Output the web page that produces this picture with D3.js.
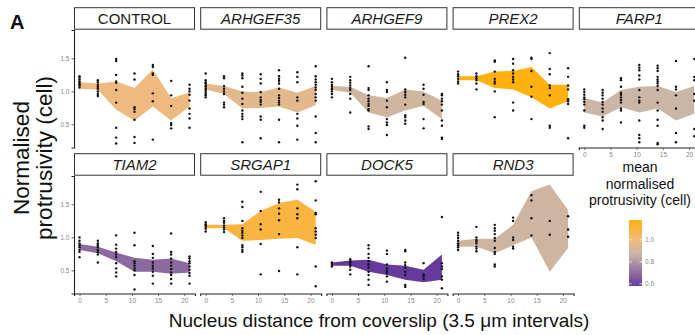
<!DOCTYPE html>
<html>
<head>
<meta charset="utf-8">
<script src="https://cdn.jsdelivr.net/npm/d3@7"></script>
<style>
body { margin: 0; background: #fff; }
svg { display: block; font-family: "Liberation Sans", Arial, sans-serif; }
</style>
</head>
<body>
<script>
// data
var genes = ["CONTROL", "ARHGEF35", "ARHGEF9", "PREX2", "FARP1", "TIAM2", "SRGAP1", "DOCK5", "RND3"];
var distances = [0, 3.5, 7, 10.5, 14, 17.5, 21];
var meanProtrusivity = [0.99, 0.95, 0.89, 1.18, 0.87, 0.69, 1.10, 0.58, 0.88];

var ribbonUpper = [
    [1.14, 1.12, 1.15, 1.05, 1.33, 0.90, 0.98],
    [1.12, 1.08, 1.00, 0.99, 1.06, 0.98, 1.08],
    [1.08, 1.07, 0.94, 0.90, 1.03, 1.00, 0.86],
    [1.23, 1.23, 1.30, 1.31, 1.37, 1.10, 1.10],
    [0.90, 0.83, 1.02, 1.07, 1.08, 0.99, 1.08],
    [0.90, 0.86, 0.77, 0.69, 0.66, 0.68, 0.61],
    [1.19, 1.19, 1.20, 1.40, 1.52, 1.57, 1.39],
    [0.62, 0.65, 0.66, 0.59, 0.57, 0.51, 0.74],
    [0.95, 0.98, 0.98, 1.19, 1.70, 1.80, 1.41]
];
var ribbonLower = [
    [1.04, 1.03, 0.72, 0.56, 0.77, 0.56, 0.77],
    [1.03, 0.96, 0.74, 0.75, 0.77, 0.68, 0.79],
    [1.02, 0.98, 0.68, 0.61, 0.71, 0.78, 0.58],
    [1.17, 1.17, 1.05, 1.03, 0.91, 0.74, 0.85],
    [0.68, 0.62, 0.76, 0.68, 0.74, 0.56, 0.66],
    [0.81, 0.76, 0.64, 0.48, 0.48, 0.45, 0.47],
    [1.14, 1.14, 0.95, 0.96, 0.98, 0.99, 0.89],
    [0.57, 0.57, 0.48, 0.43, 0.36, 0.32, 0.36],
    [0.86, 0.86, 0.76, 0.88, 1.00, 0.48, 0.84]
];

// one list of cell values per distance, per gene
var cellValues = [
    [[1.23, 1.21, 1.18, 1.15, 1.13, 1.11, 1.09, 1.06],
     [1.17, 1.14, 1.10, 1.07, 1.04, 1.00, 0.96, 0.93],
     [1.49, 1.46, 1.25, 1.15, 1.13, 1.02, 0.83, 0.45, 0.30, 0.21],
     [1.27, 1.18, 0.76, 0.73, 0.69, 0.57, 0.31, 0.22],
     [1.40, 1.37, 1.27, 1.25, 0.97, 0.85, 0.27],
     [1.16, 0.94, 0.78, 0.52, 0.49, 0.44],
     [1.10, 1.04, 1.00, 0.95, 0.86, 0.74, 0.66, 0.59, 0.45]],
    [[1.27, 1.17, 1.14, 1.12, 1.09, 1.07, 1.04, 1.02, 0.99, 0.96, 0.94, 0.91],
     [1.23, 1.20, 1.08, 1.04, 1.00, 0.96, 0.83, 0.80, 0.76],
     [1.27, 1.24, 1.20, 1.07, 0.98, 0.89, 0.81, 0.71, 0.66, 0.62, 0.58, 0.23],
     [1.26, 1.19, 1.12, 0.99, 0.91, 0.87, 0.84, 0.80, 0.62, 0.57, 0.29],
     [1.32, 1.23, 1.19, 1.16, 1.12, 1.04, 0.94, 0.90, 0.86, 0.83, 0.80, 0.57, 0.23],
     [1.29, 1.22, 1.14, 0.91, 0.86, 0.66, 0.59, 0.48, 0.27],
     [1.38, 1.23, 1.18, 1.14, 1.10, 1.06, 1.02, 0.96, 0.91, 0.86, 0.62, 0.37, 0.23]],
    [[1.19, 1.14, 1.10, 1.08, 1.05, 1.03, 1.00, 0.96, 0.91],
     [1.22, 1.17, 1.13, 1.09, 1.05, 1.02, 0.96, 0.89, 0.68],
     [1.38, 1.05, 1.02, 0.94, 0.89, 0.85, 0.81, 0.78, 0.73, 0.71, 0.47, 0.43],
     [1.14, 1.02, 0.99, 0.86, 0.76, 0.58, 0.53, 0.49, 0.34],
     [1.51, 1.03, 0.99, 0.95, 0.91, 0.80, 0.64, 0.61, 0.56, 0.51],
     [1.10, 1.04, 0.95, 0.84, 0.81, 0.58, 0.44],
     [0.96, 0.94, 0.89, 0.85, 0.80, 0.71, 0.56, 0.48, 0.30, 0.28]],
    [[1.30, 1.26, 1.23, 1.19, 1.15, 1.12],
     [1.27, 1.23, 1.20, 1.17, 1.12, 1.03],
     [1.47, 1.45, 1.30, 1.19, 1.15, 1.12, 1.00, 0.61],
     [1.49, 1.42, 1.32, 1.27, 1.22, 1.18, 1.14, 0.83, 0.71],
     [1.51, 1.49, 1.31, 1.07, 0.92, 0.58],
     [1.58, 1.34, 1.26, 1.09, 1.05, 0.94, 0.48, 0.45],
     [1.35, 1.22, 1.09, 1.03, 0.88, 0.85, 0.81, 0.29]],
    [[1.03, 0.99, 0.95, 0.91, 0.88, 0.84, 0.80, 0.71, 0.48, 0.45],
     [1.02, 0.98, 0.94, 0.89, 0.84, 0.80, 0.74, 0.69, 0.61, 0.56, 0.43],
     [1.20, 1.17, 1.07, 0.98, 0.95, 0.91, 0.87, 0.83, 0.74, 0.71, 0.53],
     [1.40, 1.36, 1.32, 1.24, 1.18, 1.02, 0.91, 0.86, 0.83, 0.56, 0.34, 0.29, 0.23],
     [1.39, 1.35, 1.31, 1.22, 1.18, 1.15, 1.12, 1.08, 1.02, 0.83, 0.71, 0.57, 0.48, 0.22, 0.20],
     [1.46, 1.07, 1.03, 0.94, 0.74, 0.37, 0.23],
     [1.49, 1.22, 1.17, 0.96, 0.86, 0.43, 0.32]],
    [[1.00, 0.95, 0.91, 0.88, 0.85, 0.81, 0.78, 0.70],
     [0.95, 0.91, 0.88, 0.85, 0.81, 0.78, 0.74, 0.62],
     [1.03, 0.89, 0.83, 0.78, 0.74, 0.70, 0.61, 0.53, 0.47, 0.41],
     [1.07, 0.88, 0.64, 0.61, 0.57, 0.53, 0.50, 0.43, 0.21],
     [0.87, 0.75, 0.69, 0.62, 0.57, 0.53, 0.48, 0.42, 0.30],
     [1.06, 0.78, 0.74, 0.68, 0.62, 0.57, 0.52, 0.47, 0.43, 0.37, 0.30],
     [0.71, 0.68, 0.64, 0.61, 0.56, 0.51, 0.46, 0.42, 0.30]],
    [[1.23, 1.20, 1.18, 1.16, 1.13, 1.09],
     [1.29, 1.25, 1.22, 1.18, 1.15, 1.12, 1.08],
     [1.54, 1.46, 1.25, 1.14, 1.10, 1.07, 1.03, 0.99, 0.88, 0.85, 0.81, 0.78],
     [1.69, 1.40, 1.20, 1.12, 0.90, 0.44],
     [1.57, 1.53, 1.44, 1.36, 1.26, 1.05, 0.49],
     [1.80, 1.73, 1.44, 1.35, 1.29, 0.85, 0.44],
     [1.85, 1.56, 1.37, 1.35, 1.14, 1.09, 1.04, 0.99, 0.56, 0.26]],
    [[0.62, 0.60, 0.58, 0.56],
     [0.67, 0.64, 0.62, 0.59, 0.56, 0.51, 0.44],
     [0.88, 0.83, 0.75, 0.69, 0.64, 0.59, 0.54, 0.48, 0.43, 0.36, 0.28],
     [0.80, 0.75, 0.59, 0.53, 0.49, 0.46, 0.41, 0.33],
     [0.81, 0.79, 0.62, 0.58, 0.54, 0.48, 0.43, 0.28, 0.25],
     [0.61, 0.44, 0.41, 0.37],
     [1.31, 0.61, 0.56, 0.52, 0.41, 0.36, 0.23]],
    [[1.07, 1.03, 0.99, 0.95, 0.91, 0.88, 0.85, 0.81],
     [1.16, 1.00, 0.96, 0.94, 0.91, 0.86, 0.83, 0.79],
     [1.19, 1.14, 1.10, 1.05, 0.99, 0.95, 0.84, 0.78, 0.75, 0.59, 0.56],
     [1.30, 1.25, 1.00, 0.96, 0.86, 0.83],
     [1.64, 1.56, 1.29, 1.03],
     [1.25, 1.04],
     [1.32, 1.12, 1.01]]
];

var xTicks = [0, 5, 10, 15, 20];
var yTicks = [0.5, 1.0, 1.5];
var legendTicks = [0.6, 0.8, 1.0];

// layout
var W = 695, H = 335;
var nCols = 5;
var panelW = 121, colStep = 126.2, left0 = 74;
var rowTop = [30, 176], plotH = 117.5;
var stripH = 21.5, stripGap = 0.8;

var svg = d3.select("body").append("svg").attr("width", W).attr("height", H);

var x = d3.scaleLinear().domain([-1.05, 22.05]).range([0, panelW]);
var y = d3.scaleLinear().domain([0.15, 1.93]).range([plotH, 0]);
var fill = d3.scaleLinear()
    .domain([0.58, 0.87, 1.0, 1.18])
    .range(["#653a9c", "#cbb5a5", "#f2ba7c", "#ffb10f"]);

var area = d3.area()
    .x(function (d) { return x(d.x); })
    .y0(function (d) { return y(d.lo); })
    .y1(function (d) { return y(d.hi); });

genes.forEach(function (gene, i) {
    var col = i % nCols, row = Math.floor(i / nCols);
    var gx = left0 + col * colStep, gy = rowTop[row];
    var g = svg.append("g").attr("transform", "translate(" + gx + "," + gy + ")");

    // strip
    g.append("rect")
        .attr("x", 0.5).attr("y", -stripH - stripGap)
        .attr("width", panelW - 1).attr("height", stripH)
        .attr("fill", "#fff").attr("stroke", "#333").attr("stroke-width", 1);
    g.append("text")
        .attr("x", panelW / 2).attr("y", -stripGap - stripH / 2 + 5.5)
        .attr("text-anchor", "middle")
        .attr("font-size", 15)
        .attr("font-style", gene == "CONTROL" ? "normal" : "italic")
        .attr("fill", "#1a1a1a")
        .text(gene);

    var band = distances.map(function (d, k) {
        return { x: d, lo: ribbonLower[i][k], hi: ribbonUpper[i][k] };
    });
    g.append("path").datum(band)
        .attr("d", area)
        .attr("fill", fill(meanProtrusivity[i]));

    var pts = [];
    cellValues[i].forEach(function (vals, k) {
        vals.forEach(function (v) { pts.push({ x: distances[k], v: v }); });
    });
    g.selectAll("circle").data(pts).enter().append("circle")
        .attr("cx", function (d) { return x(d.x); })
        .attr("cy", function (d) { return y(d.v); })
        .attr("r", 1.2)
        .attr("fill", "#111");

    // y axis on first column
    if (col == 0) {
        var ya = g.append("g").call(d3.axisLeft(y).tickValues(yTicks).tickFormat(d3.format(".1f")).tickSize(2.5).tickPadding(2));
        ya.select(".domain").attr("stroke", "#222").attr("stroke-width", 1.1);
        ya.selectAll(".tick line").attr("stroke", "#666");
        ya.selectAll(".tick text").attr("font-size", 6.5).attr("fill", "#888").attr("font-family", "Liberation Sans, Arial, sans-serif");
    }
    // x axis on the panels with nothing below
    if (row == 1 || i + nCols >= genes.length) {
        var xa = g.append("g").attr("transform", "translate(0," + plotH + ")")
            .call(d3.axisBottom(x).tickValues(xTicks).tickSize(2.5).tickPadding(2.5));
        xa.select(".domain").attr("stroke", "#222").attr("stroke-width", 1.1);
        xa.selectAll(".tick line").attr("stroke", "#666");
        xa.selectAll(".tick text").attr("font-size", 6.5).attr("fill", "#888").attr("font-family", "Liberation Sans, Arial, sans-serif");
    }
});

// titles
svg.append("text")
    .attr("x", 10).attr("y", 29)
    .attr("font-size", 20).attr("font-weight", "bold").attr("fill", "#111")
    .text("A");

svg.append("text")
    .attr("x", 379).attr("y", 327)
    .attr("text-anchor", "middle").attr("font-size", 19).attr("fill", "#111")
    .text("Nucleus distance from coverslip (3.5 μm intervals)");

var yt = svg.append("text")
    .attr("transform", "translate(29,158) rotate(-90)")
    .attr("text-anchor", "middle").attr("font-size", 22.5).attr("fill", "#111");
yt.append("tspan").attr("x", 0).attr("y", 0).text("Normalised");
yt.append("tspan").attr("x", 0).attr("y", 22.5).text("protrusivity (cell)");

// legend
var lg = svg.append("g");
["mean", "normalised", "protrusivity (cell)"].forEach(function (t, k) {
    lg.append("text")
        .attr("x", 640).attr("y", 172 + k * 16.7)
        .attr("text-anchor", "middle").attr("font-size", 14).attr("fill", "#111")
        .text(t);
});

var barX = 629, barW = 13, barTop = 220, barBot = 286;
var ly = d3.scaleLinear().domain([0.58, 1.18]).range([barBot, barTop]);
var grad = svg.append("defs").append("linearGradient")
    .attr("id", "cbar").attr("x1", 0).attr("y1", 1).attr("x2", 0).attr("y2", 0);
d3.range(0, 1.0001, 0.05).forEach(function (t) {
    grad.append("stop").attr("offset", t)
        .attr("stop-color", fill(0.58 + t * 0.6));
});
lg.append("rect")
    .attr("x", barX).attr("y", barTop).attr("width", barW).attr("height", barBot - barTop)
    .attr("fill", "url(#cbar)");
legendTicks.forEach(function (v) {
    lg.append("line").attr("x1", barX).attr("x2", barX + 2.5)
        .attr("y1", ly(v)).attr("y2", ly(v)).attr("stroke", "#fff").attr("stroke-width", 0.8);
    lg.append("line").attr("x1", barX + barW - 2.5).attr("x2", barX + barW)
        .attr("y1", ly(v)).attr("y2", ly(v)).attr("stroke", "#fff").attr("stroke-width", 0.8);
    lg.append("text")
        .attr("x", barX + barW + 3).attr("y", ly(v) + 2.3)
        .attr("font-size", 6.5).attr("fill", "#888")
        .text(v.toFixed(1));
});
</script>
</body>
</html>
